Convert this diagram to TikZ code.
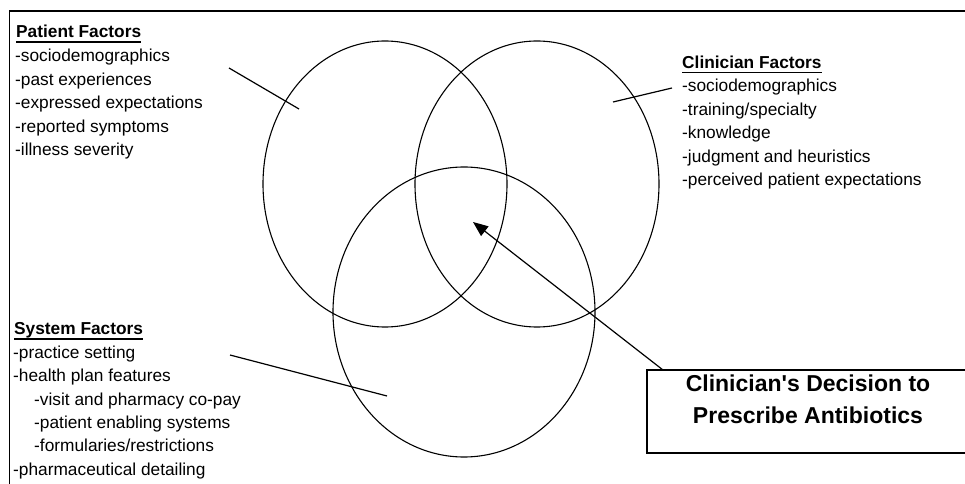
\documentclass[tikz,border=0pt]{standalone}
\usepackage{fontspec}
\setmainfont{Liberation Sans}
\usetikzlibrary{arrows.meta}
\begin{document}
\begin{tikzpicture}[x=1bp,y=-1bp,
  txt/.style={anchor=base west,inner sep=0pt,font=\fontsize{17.3bp}{23.5bp}\selectfont},
  ttl/.style={txt,font=\fontsize{17.3bp}{23.5bp}\selectfont\bfseries},
  ring/.style={draw,line width=1.1bp},
  pointer/.style={line width=1.2bp},
  frame/.style={line width=1.8bp},
  uline/.style={line width=1.6bp}]
\useasboundingbox (0,0) rectangle (965,484);
% outer frame (cropped on right and bottom)
\draw[frame] (9.5,500) -- (9.5,11) -- (975,11);
% ellipses
\draw[ring] (385,184) ellipse [x radius=122, y radius=143];
\draw[ring] (537,184) ellipse [x radius=122, y radius=143];
\draw[ring] (464,312) ellipse [x radius=131, y radius=145];
% Patient factors
\node[ttl] (pt) at (16,38) {Patient Factors};
\draw[uline] ([yshift=-4bp]pt.base west) -- ([yshift=-4bp]pt.base east);
\node[txt] (p1) at (15,62) {-sociodemographics};
\node[txt] (p2) at (15,85.5) {-past experiences};
\node[txt] (p3) at (15,109) {-expressed expectations};
\node[txt] (p4) at (15,132.5) {-reported symptoms};
\node[txt] (p5) at (15,156) {-illness severity};
% Clinician factors
\node[ttl] (ct) at (682,68.5) {Clinician Factors};
\draw[uline] ([yshift=-4bp]ct.base west) -- ([yshift=-4bp]ct.base east);
\node[txt] (c1) at (682,92) {-sociodemographics};
\node[txt] (c2) at (682,115.5) {-training/specialty};
\node[txt] (c3) at (682,139) {-knowledge};
\node[txt] (c4) at (682,162.5) {-judgment and heuristics};
\node[txt] (c5) at (682,186) {-perceived patient expectations};
% System factors
\node[ttl] (st) at (14,335) {System Factors};
\draw[uline] ([yshift=-4bp]st.base west) -- ([yshift=-4bp]st.base east);
\node[txt] (s1) at (13,358.5) {-practice setting};
\node[txt] (s2) at (13,382) {-health plan features};
\node[txt] (s3) at (34,405) {-visit and pharmacy co-pay};
\node[txt] (s4) at (34,428) {-patient enabling systems};
\node[txt] (s5) at (34,451) {-formularies/restrictions};
\node[txt] (s6) at (13,475) {-pharmaceutical detailing};
% pointer lines
\coordinate (pa) at (229,68);
\coordinate (pb) at (299,109);
\coordinate (ca) at (672,88);
\coordinate (cb) at (613,102);
\coordinate (sa) at (230,355);
\coordinate (sb) at (387,396);
\draw[pointer] (pa) -- (pb);
\draw[pointer] (ca) -- (cb);
\draw[pointer] (sa) -- (sb);
% decision box
\node[draw,frame,minimum width=325bp,minimum height=83bp,inner sep=0pt] (dec) at (809.5,411.5) {};
\node[inner sep=0pt,align=center,font=\fontsize{23bp}{32bp}\selectfont\bfseries] (dectext) at (808,399) {Clinician\textquotesingle s Decision to\\Prescribe Antibiotics};
\coordinate (tail) at (663,370);
\coordinate (tip) at (473,222);
\draw[pointer,-{Triangle[length=15bp,width=12bp]}] (tail) -- (tip);
\end{tikzpicture}
\end{document}
